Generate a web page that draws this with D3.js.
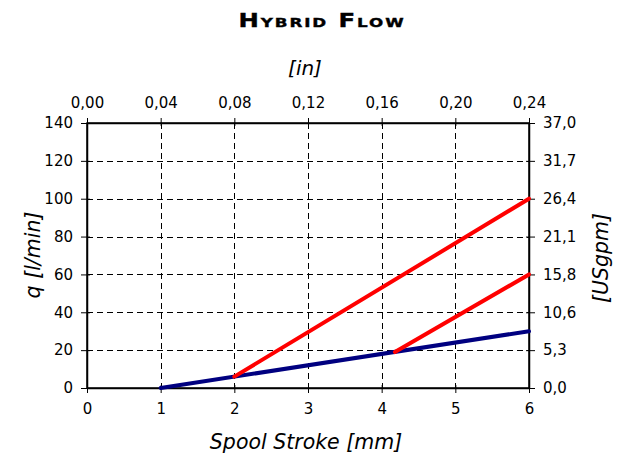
<!DOCTYPE html>
<html>
<head>
<meta charset="utf-8">
<script src="https://cdn.jsdelivr.net/npm/d3@7"></script>
<style>
  html, body { margin: 0; padding: 0; background: #fff; }
  svg { display: block; }
  text { font-family: "DejaVu Sans", Verdana, sans-serif; fill: #000; }
</style>
</head>
<body>
<svg id="chart" width="617" height="454"></svg>
<script>
// Spool stroke [mm] vs. flow q [l/min]
const strokeTicks = [0, 1, 2, 3, 4, 5, 6];
const flowTicks = [0, 20, 40, 60, 80, 100, 120, 140];
const inchLabels = ["0,00", "0,04", "0,08", "0,12", "0,16", "0,20", "0,24"];
const gpmLabels = ["0,0", "5,3", "10,6", "15,8", "21,1", "26,4", "31,7", "37,0"];

// base (blue) characteristic
const baseStroke = [1, 6];
const baseFlow = [0, 30];
// first hybrid stage (red)
const stage1Stroke = [2, 6];
const stage1Flow = [6, 100];
// second hybrid stage (red)
const stage2Stroke = [4.18, 6];
const stage2Flow = [19, 60];

const svg = d3.select("#chart");
const L = 87, R = 529, T = 123, B = 388;

const x = d3.scaleLinear().domain([0, 6]).range([L, R]);
const y = d3.scaleLinear().domain([0, 140]).range([B, T]);

// dashed grid
const grid = svg.append("g").attr("stroke", "#000").attr("stroke-width", 1)
  .attr("stroke-dasharray", "6,4");
grid.selectAll("line.v").data(strokeTicks.slice(1, -1)).join("line")
  .attr("x1", d => Math.round(x(d)) + 0.5).attr("x2", d => Math.round(x(d)) + 0.5)
  .attr("y1", T).attr("y2", B);
grid.selectAll("line.h").data(flowTicks.slice(1, -1)).join("line")
  .attr("x1", L).attr("x2", R)
  .attr("y1", d => Math.round(y(d)) + 0.5).attr("y2", d => Math.round(y(d)) + 0.5);

// axes
const fs = 15;
function styleAxis(g) {
  g.select(".domain").attr("stroke", "#000").attr("stroke-width", 1.5);
  g.selectAll(".tick line").attr("stroke", "#000").attr("stroke-width", 1);
  g.selectAll(".tick text").style("font-size", fs + "px").style("font-family", "'DejaVu Sans', Verdana, sans-serif");
}

const xBottom = svg.append("g").attr("transform", `translate(0,${B})`)
  .call(d3.axisBottom(x).tickValues(strokeTicks).tickFormat(d3.format("d")).tickSizeInner(5).tickSizeOuter(0).tickPadding(10));
styleAxis(xBottom);
xBottom.selectAll(".tick line").attr("y1", -3);

const xTop = svg.append("g").attr("transform", `translate(0,${T})`)
  .call(d3.axisTop(x).tickValues(strokeTicks).tickFormat((d, i) => inchLabels[i]).tickSizeInner(5).tickSizeOuter(0).tickPadding(10));
styleAxis(xTop);
xTop.selectAll(".tick line").attr("y1", 3);

const yLeft = svg.append("g").attr("transform", `translate(${L},0)`)
  .call(d3.axisLeft(y).tickValues(flowTicks).tickSizeInner(6).tickSizeOuter(0).tickPadding(8));
styleAxis(yLeft);
yLeft.selectAll(".tick line").attr("x1", 3);

const yRight = svg.append("g").attr("transform", `translate(${R},0)`)
  .call(d3.axisRight(y).tickValues(flowTicks).tickFormat((d, i) => gpmLabels[i]).tickSizeInner(6).tickSizeOuter(0).tickPadding(8));
styleAxis(yRight);
yRight.selectAll(".tick line").attr("x1", -3);

// frame
svg.append("rect").attr("x", L).attr("y", T).attr("width", R - L).attr("height", B - T)
  .attr("fill", "none").attr("stroke", "#000").attr("stroke-width", 1.5);

// characteristic lines
const line = d3.line().x(d => x(d[0])).y(d => y(d[1]));
const series = [
  { s: baseStroke, q: baseFlow, color: "#000080" },
  { s: stage1Stroke, q: stage1Flow, color: "#ff0000" },
  { s: stage2Stroke, q: stage2Flow, color: "#ff0000" }
];
svg.append("g").selectAll("path").data(series).join("path")
  .attr("d", d => line(d.s.map((v, i) => [v, d.q[i]])))
  .attr("fill", "none").attr("stroke", d => d.color).attr("stroke-width", 4)
  .attr("stroke-linecap", "round");

// titles
svg.append("text").attr("transform", "translate(322,27) scale(1.28,1)").attr("text-anchor", "middle")
  .style("font-size", "19px").style("font-weight", "bold").style("font-variant", "small-caps")
  .style("letter-spacing", "1.5px").style("stroke", "#000").style("stroke-width", 0.4)
  .text("Hybrid Flow");

svg.append("text").attr("x", 305).attr("y", 75).attr("text-anchor", "middle")
  .style("font-size", "20px").style("font-style", "italic").text("[in]");

svg.append("text").attr("x", 306).attr("y", 449).attr("text-anchor", "middle")
  .style("font-size", "20.5px").style("font-style", "italic").text("Spool Stroke [mm]");

svg.append("text").attr("transform", "translate(40,255) rotate(-90)").attr("text-anchor", "middle")
  .style("font-size", "20.5px").style("font-style", "italic").text("q [l/min]");

svg.append("text").attr("transform", "translate(608,258) rotate(-90)").attr("text-anchor", "middle")
  .style("font-size", "20.5px").style("font-style", "italic").text("[USgpm]");
</script>
</body>
</html>
